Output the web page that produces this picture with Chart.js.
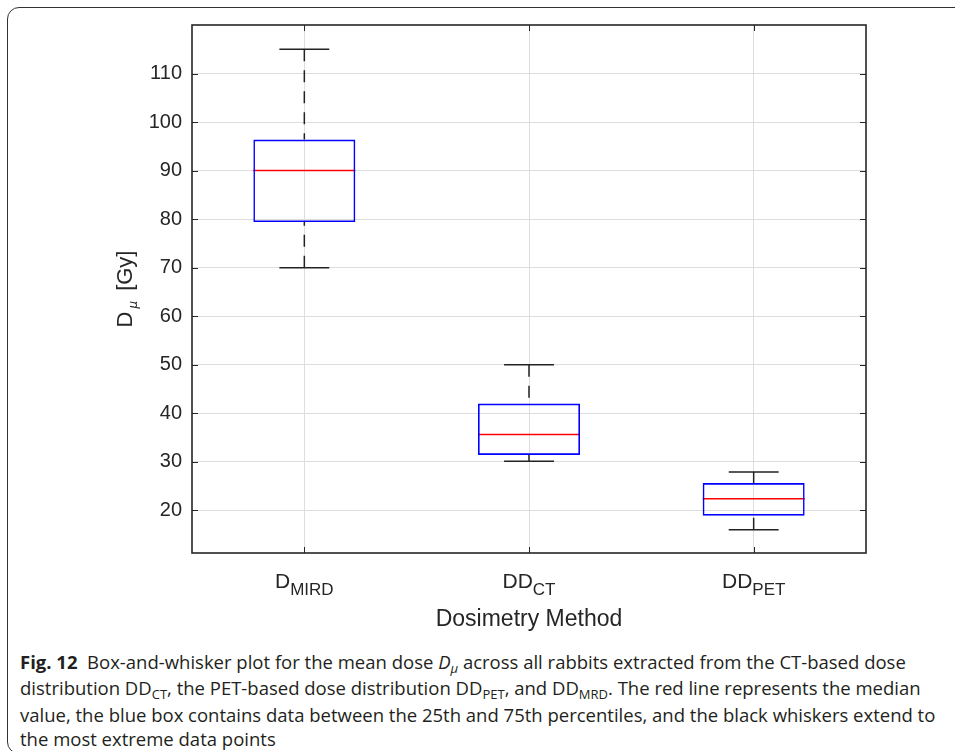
<!DOCTYPE html>
<html>
<head>
<meta charset="utf-8">
<title>Mean dose by dosimetry method</title>
<script src="https://cdn.jsdelivr.net/npm/chart.js@4.4.0/dist/chart.umd.min.js"></script>
<style>
  html, body { margin: 0; padding: 0; background: #fff; }
  body { width: 955px; height: 751px; position: relative; overflow: hidden; }
  .frame { position: absolute; left: 7px; top: 7px; width: 1000px; height: 747px; box-sizing: border-box; border: 1.5px solid #333; border-radius: 12px; }
  .plot { position: absolute; left: 0; top: 0; width: 955px; height: 640px; }
  .caption { position: absolute; left: 20px; top: 650px; font-family: "Open Sans", sans-serif; font-size: 18.5px; line-height: 24.3px; color: #231f20; white-space: nowrap; }
  .caption .sub { font-size: 13px; position: relative; top: 4px; }
</style>
</head>
<body>
<div class="frame"></div>
<div class="plot"><canvas id="boxChart"></canvas></div>
<div class="caption">
  <div><b>Fig. 12</b>&nbsp; Box-and-whisker plot for the mean dose <i>D</i><span class="sub"><i>μ</i></span> across all rabbits extracted from the CT-based dose</div>
  <div>distribution DD<span class="sub">CT</span>, the PET-based dose distribution DD<span class="sub">PET</span>, and DD<span class="sub">MRD</span>. The red line represents the median</div>
  <div>value, the blue box contains data between the 25th and 75th percentiles, and the black whiskers extend to</div>
  <div>the most extreme data points</div>
</div>
<script>
// values
const categoryMain = ["D", "DD", "DD"];
const categorySub = ["MIRD", "CT", "PET"];
const whiskerLow = [70, 30.1, 16.0];
const q1 = [79.4, 31.4, 18.9];
const median = [90, 35.6, 22.4];
const q3 = [96.4, 42.0, 25.6];
const whiskerHigh = [115, 50, 27.9];
const yTicks = [20, 30, 40, 50, 60, 70, 80, 90, 100, 110];

// half widths in category units
const BOX_HALF = 0.227;
const CAP_HALF = 0.111;
const AXIS_COLOR = "#262626";
const GRID_COLOR = "#dedede";
const FONT = "'Liberation Sans'";

const gap = (i) => ({ x: i + 1, y: null });

const whiskerPts = [];
const capPts = [];
const medianPts = [];
categoryMain.forEach((_, i) => {
  const c = i + 1;
  // whiskers go from the cap toward the box
  whiskerPts.push({ x: c, y: whiskerHigh[i] }, { x: c, y: q3[i] }, gap(i),
                  { x: c, y: whiskerLow[i] }, { x: c, y: q1[i] }, gap(i));
  capPts.push({ x: c - CAP_HALF, y: whiskerHigh[i] }, { x: c + CAP_HALF, y: whiskerHigh[i] }, gap(i),
              { x: c - CAP_HALF, y: whiskerLow[i] }, { x: c + CAP_HALF, y: whiskerLow[i] }, gap(i));
  medianPts.push({ x: c - BOX_HALF, y: median[i] }, { x: c + BOX_HALF, y: median[i] }, gap(i));
});

// parts: [text, font, drop, extra space after]
const drawParts = (ctx, parts, x, y) => {
  let total = 0;
  parts.forEach(p => { ctx.font = p[1]; total += ctx.measureText(p[0]).width + (p[3] || 0); });
  let cx = x - total / 2;
  parts.forEach(p => {
    ctx.font = p[1];
    ctx.fillText(p[0], cx, y + p[2]);
    cx += ctx.measureText(p[0]).width + (p[3] || 0);
  });
};

const frameAndText = {
  id: "frameAndText",
  afterDraw(chart) {
    const { ctx, chartArea: a, scales: { x, y } } = chart;
    ctx.save();
    ctx.strokeStyle = AXIS_COLOR;
    ctx.lineWidth = 1;
    ctx.beginPath();
    y.ticks.forEach(t => {
      const py = Math.round(y.getPixelForValue(t.value)) + 0.5;
      ctx.moveTo(a.left, py); ctx.lineTo(a.left + 6, py);
      ctx.moveTo(a.right, py); ctx.lineTo(a.right - 6, py);
    });
    x.ticks.forEach(t => {
      const px = Math.round(x.getPixelForValue(t.value)) + 0.5;
      ctx.moveTo(px, a.bottom); ctx.lineTo(px, a.bottom - 6);
      ctx.moveTo(px, a.top); ctx.lineTo(px, a.top + 6);
    });
    ctx.stroke();
    ctx.lineWidth = 1.6;
    ctx.strokeRect(a.left, a.top, a.right - a.left, a.bottom - a.top);

    ctx.fillStyle = AXIS_COLOR;
    ctx.textAlign = "left";
    ctx.textBaseline = "alphabetic";
    categoryMain.forEach((m, i) => {
      drawParts(ctx, [[m, "21px " + FONT, 0], [categorySub[i], "17px " + FONT, 7]],
                x.getPixelForValue(i + 1), a.bottom + 35);
    });
    drawParts(ctx, [["Dosimetry Method", "23px " + FONT, 0]], (a.left + a.right) / 2, a.bottom + 73);

    ctx.translate(a.left - 60, (a.top + a.bottom) / 2);
    ctx.rotate(-Math.PI / 2);
    drawParts(ctx, [["D", "22px " + FONT, 0, 3], ["μ", "italic 12px 'DejaVu Sans'", 5, 4],
                    [" [Gy]", "22px " + FONT, 0]], 0, 0);
    ctx.restore();
  }
};

const ctx = document.getElementById("boxChart").getContext("2d");

new Chart(ctx, {
  type: "bar",
  data: {
    datasets: [
      {
        label: "box",
        data: q1.map((v, i) => ({ x: i + 1, y: [v, q3[i]] })),
        backgroundColor: "rgba(0,0,0,0)",
        borderColor: "#0000ff",
        borderWidth: 1.6,
        borderSkipped: false,
        barPercentage: 0.454,
        categoryPercentage: 1,
        order: 0
      },
      {
        type: "line",
        label: "median",
        data: medianPts,
        borderColor: "#ff0000",
        borderWidth: 1.5,
        pointRadius: 0,
        spanGaps: false,
        order: 1
      },
      {
        type: "line",
        label: "caps",
        data: capPts,
        borderColor: "#222222",
        borderWidth: 1.5,
        pointRadius: 0,
        spanGaps: false,
        order: 2
      },
      {
        type: "line",
        label: "whiskers",
        data: whiskerPts,
        borderColor: "#222222",
        borderWidth: 1.5,
        borderDash: [12, 9],
        pointRadius: 0,
        spanGaps: false,
        order: 3
      }
    ]
  },
  options: {
    responsive: true,
    maintainAspectRatio: false,
    animation: false,
    layout: { padding: { left: 140, top: 25, right: 89, bottom: 0 } },
    plugins: { legend: { display: false }, tooltip: { enabled: false } },
    scales: {
      x: {
        type: "linear",
        min: 0.5,
        max: 3.5,
        offset: false,
        afterBuildTicks: (s) => { s.ticks = categoryMain.map((_, i) => ({ value: i + 1 })); },
        afterFit: (s) => { s.height = 87; },
        grid: { color: GRID_COLOR, lineWidth: 1, drawTicks: false, offset: false },
        border: { display: false },
        ticks: { display: false }
      },
      y: {
        min: 11.2,
        max: 120,
        afterBuildTicks: (s) => { s.ticks = yTicks.map(v => ({ value: v })); },
        afterFit: (s) => { s.width = 52; },
        grid: { color: GRID_COLOR, lineWidth: 1, drawTicks: false },
        border: { display: false },
        ticks: { font: { family: "Liberation Sans", size: 20 }, color: AXIS_COLOR, padding: 10 }
      }
    }
  },
  plugins: [frameAndText]
});
</script>
</body>
</html>
